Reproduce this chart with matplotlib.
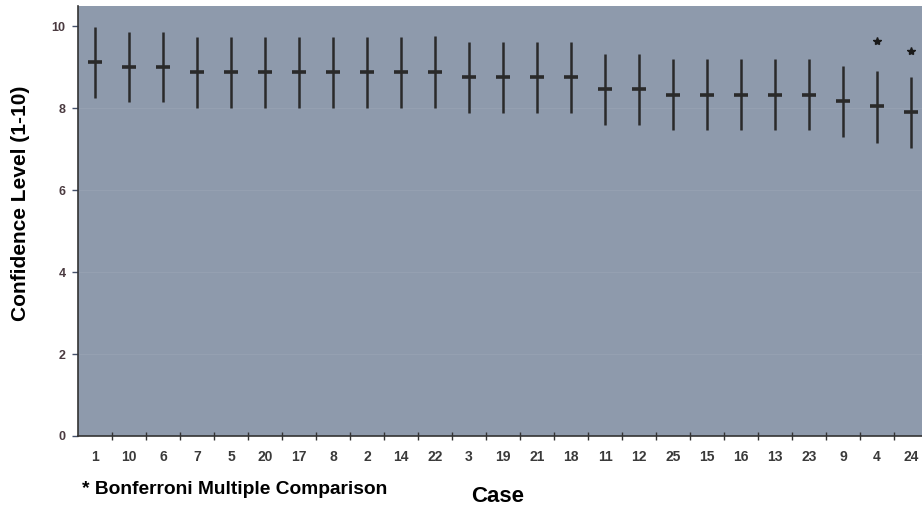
import matplotlib
matplotlib.use("Agg")
import matplotlib.pyplot as plt
import numpy as np

cases = ["1", "10", "6", "7", "5", "20", "17", "8", "2", "14", "22", "3", "19",
         "21", "18", "11", "12", "25", "15", "16", "13", "23", "9", "4", "24"]
means = [9.12, 9.00, 9.00, 8.88, 8.88, 8.88, 8.88, 8.88, 8.88, 8.88, 8.88, 8.76, 8.76,
         8.76, 8.76, 8.46, 8.46, 8.32, 8.32, 8.32, 8.32, 8.32, 8.17, 8.05, 7.90]
upper = [9.98, 9.85, 9.85, 9.73, 9.73, 9.73, 9.73, 9.73, 9.73, 9.73, 9.75, 9.61, 9.61,
         9.61, 9.61, 9.32, 9.32, 9.20, 9.20, 9.20, 9.20, 9.20, 9.02, 8.90, 8.76]
lower = [8.24, 8.15, 8.15, 8.00, 8.00, 8.00, 8.00, 8.00, 8.00, 8.00, 8.00, 7.88, 7.88,
         7.88, 7.88, 7.59, 7.59, 7.46, 7.46, 7.46, 7.46, 7.46, 7.30, 7.15, 7.02]
star_cases = ["4", "24"]
star_y = [9.63, 9.39]
yticks = [0, 2, 4, 6, 8, 10]

plt.rcParams['font.family'] = ['Liberation Sans', 'DejaVu Sans']

fig = plt.figure(figsize=(9.22, 5.14), dpi=100)
fig.patch.set_facecolor('white')
ax = fig.add_axes([78/922, 78/514, 850/922, 430/514])
ax.set_facecolor('#8e9aac')

x = np.arange(len(cases))
m = np.array(means)
ax.vlines(x, lower, upper, color='#2a2a2a', lw=1.8, zorder=3)
ax.errorbar(x, m, xerr=0.2, fmt='none', ecolor='#2a2a2a', elinewidth=2.6, capsize=0, zorder=4)

sx = [cases.index(c) for c in star_cases]
ax.plot(sx, star_y, ls='none', marker='*', ms=6, color='#1a1a1a', zorder=4)

for yv in [2, 4, 6, 8]:
    ax.axhline(yv, color='#95a0b1', lw=0.8, zorder=1)

ax.set_xlim(-0.5, len(cases) - 0.5)
ax.set_ylim(0, 10.49)
ax.set_yticks(yticks)
ax.set_yticklabels([str(v) for v in yticks], fontsize=9, fontweight='bold', color='#4a3a40')
ax.set_xticks(x)
ax.set_xticklabels(cases, fontsize=10, fontweight='bold', color='#3a3a3a')
ax.tick_params(axis='x', length=0, pad=10)
ax.set_xticks(np.arange(0.5, len(cases) - 0.5, 1), minor=True)
ax.tick_params(axis='x', which='minor', length=6, direction='inout', color='#333333', width=1)
ax.tick_params(axis='y', length=4, direction='out', color='#44506a', width=1, pad=5)

for s in ['top', 'right']:
    ax.spines[s].set_visible(False)
ax.spines['left'].set_color('#333333')
ax.spines['bottom'].set_color('#333333')
ax.spines['left'].set_linewidth(1.2)
ax.spines['bottom'].set_linewidth(1.2)

fig.text(21/922, 1 - 203/514, 'Confidence Level (1-10)', fontsize=15, fontweight='bold',
         rotation=90, ha='center', va='center')
fig.text(498/922, 1 - 496/514, 'Case', fontsize=16, fontweight='bold', ha='center', va='center')
fig.text(82/922, 1 - 490/514, '* Bonferroni Multiple Comparison', fontsize=13.8, fontweight='bold',
         ha='left', va='center')

fig.savefig('out.png', dpi=100, facecolor='white')
